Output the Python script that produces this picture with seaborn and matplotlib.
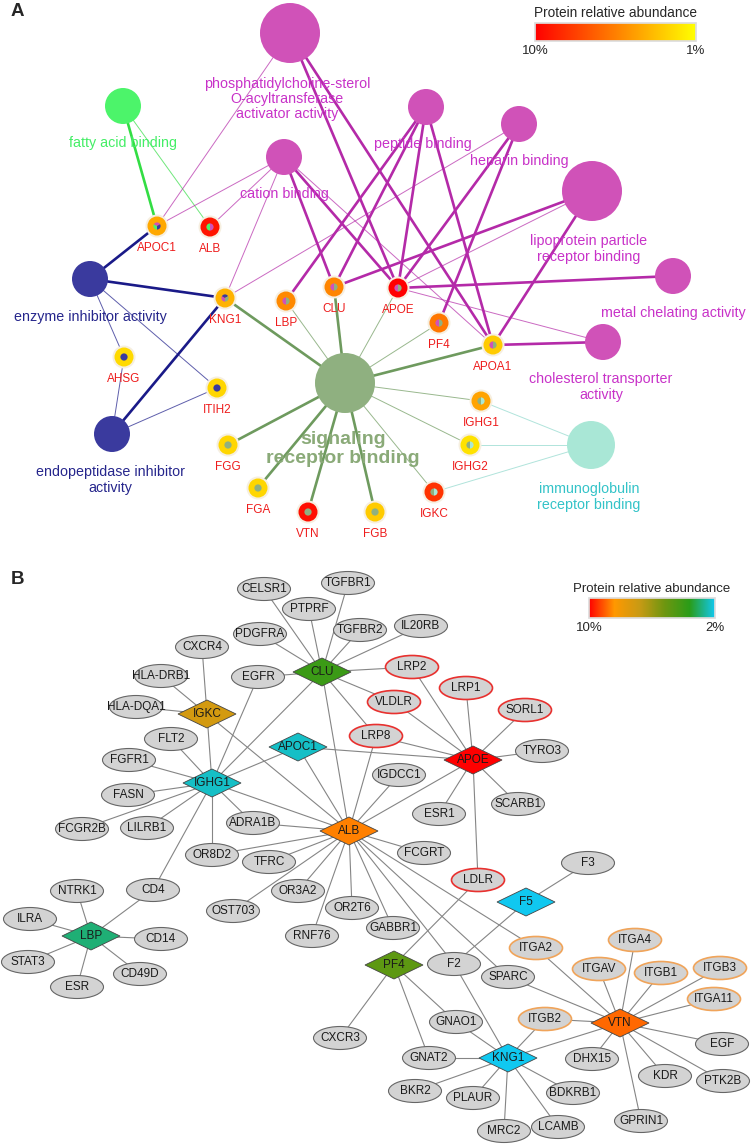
import matplotlib
matplotlib.use("Agg")
import matplotlib.pyplot as plt
import seaborn as sns
from matplotlib.patches import Circle, Ellipse, Polygon, Wedge
from matplotlib.colors import LogNorm
from matplotlib.cm import ScalarMappable

# ---------------- panel A data: GO terms and the plasma proteins linked to them
go_ids = ["pcat", "fab", "cation", "peptide", "heparin", "lipo",
          "metal", "chol", "igr", "enz", "endo", "sig"]
go_labels = ["phosphatidylcholine-sterol\nO-acyltransferase\nactivator activity",
             "fatty acid binding", "cation binding", "peptide binding",
             "heparin binding", "lipoprotein particle\nreceptor binding",
             "metal chelating activity", "cholesterol transporter\nactivity",
             "immunoglobulin\nreceptor binding", "enzyme inhibitor activity",
             "endopeptidase inhibitor\nactivity", "signaling\nreceptor binding"]
go_groups = ["lipid", "fatty", "lipid", "lipid", "lipid", "lipid",
             "lipid", "lipid", "immuno", "inhib", "inhib", "signal"]

proteins_a = ["APOC1", "ALB", "KNG1", "LBP", "CLU", "APOE", "PF4", "APOA1", "AHSG",
              "ITIH2", "IGHG1", "IGHG2", "IGKC", "FGG", "FGA", "VTN", "FGB"]
abundance_a = [2.2, 8.3, 2.0, 2.9, 3.0, 10.0, 3.4, 1.6, 1.4,
               1.45, 2.3, 1.3, 6.3, 1.45, 1.45, 8.8, 1.6]

# (term, protein, strong link)
links_a = [
    ("fab", "APOC1", 1), ("fab", "ALB", 0),
    ("pcat", "APOC1", 0), ("pcat", "APOE", 1), ("pcat", "APOA1", 1),
    ("cation", "APOC1", 0), ("cation", "ALB", 0), ("cation", "KNG1", 0),
    ("cation", "CLU", 1), ("cation", "APOE", 1), ("cation", "APOA1", 0),
    ("peptide", "LBP", 1), ("peptide", "CLU", 1), ("peptide", "APOE", 1), ("peptide", "APOA1", 1),
    ("heparin", "KNG1", 0), ("heparin", "APOE", 1), ("heparin", "PF4", 1),
    ("lipo", "CLU", 1), ("lipo", "APOE", 0), ("lipo", "APOA1", 1),
    ("metal", "APOE", 1),
    ("chol", "APOE", 0), ("chol", "APOA1", 1),
    ("enz", "APOC1", 1), ("enz", "KNG1", 1), ("enz", "AHSG", 0), ("enz", "ITIH2", 0),
    ("endo", "KNG1", 1), ("endo", "AHSG", 0), ("endo", "ITIH2", 0),
    ("sig", "KNG1", 1), ("sig", "LBP", 0), ("sig", "CLU", 1), ("sig", "APOE", 0),
    ("sig", "PF4", 0), ("sig", "APOA1", 1), ("sig", "IGHG1", 0), ("sig", "IGHG2", 0),
    ("sig", "IGKC", 0), ("sig", "FGG", 1), ("sig", "FGA", 1), ("sig", "VTN", 1), ("sig", "FGB", 1),
    ("igr", "IGHG1", 0), ("igr", "IGHG2", 0), ("igr", "IGKC", 0),
]

# ---------------- panel B data: protein-protein interactions
hubs_b = ["CLU", "IGKC", "APOC1", "IGHG1", "ALB", "APOE", "LBP", "PF4", "F5", "KNG1", "VTN"]
abundance_b = [3.0, 5.6, 2.13, 2.13, 7.6, 10.0, 2.4, 3.5, 2.0, 2.0, 8.0]
lipo_receptors = ["LRP2", "LRP1", "VLDLR", "SORL1", "LRP8", "LDLR"]
integrins = ["ITGA2", "ITGA4", "ITGAV", "ITGB1", "ITGB3", "ITGA11", "ITGB2"]

partners_b = {
    "CLU": ["CELSR1", "PTPRF", "TGFBR1", "TGFBR2", "IL20RB", "PDGFRA", "EGFR",
            "LRP2", "VLDLR", "LRP8", "IGHG1", "ALB"],
    "IGKC": ["CXCR4", "HLA-DRB1", "HLA-DQA1", "IGHG1", "ALB"],
    "IGHG1": ["FLT2", "FGFR1", "FASN", "FCGR2B", "LILRB1", "ADRA1B", "OR8D2",
              "CD4", "ALB", "APOC1", "EGFR"],
    "APOC1": ["APOE", "ALB"],
    "ALB": ["ADRA1B", "OR8D2", "TFRC", "OST703", "OR3A2", "RNF76", "OR2T6", "GABBR1",
            "FCGRT", "LRP8", "IGDCC1", "APOE", "F2", "SPARC", "ITGA2"],
    "APOE": ["LRP2", "LRP1", "VLDLR", "SORL1", "LRP8", "TYRO3", "SCARB1", "ESR1", "LDLR"],
    "LBP": ["NTRK1", "ILRA", "STAT3", "ESR", "CD49D", "CD14", "CD4"],
    "PF4": ["LDLR", "CXCR3", "GNAO1", "GNAT2"],
    "F5": ["F3", "F2"],
    "KNG1": ["F2", "GNAO1", "GNAT2", "ITGB2", "BKR2", "PLAUR", "MRC2", "LCAMB", "BDKRB1", "VTN"],
    "VTN": ["ITGA2", "SPARC", "ITGAV", "ITGA4", "ITGB1", "ITGB3", "ITGA11", "ITGB2",
            "EGF", "PTK2B", "KDR", "GPRIN1", "DHX15"],
}

# ---------------- layout (pixel positions of the drawing)
term_layout = {  # node x, y, radius, label x, label y
    "pcat": (290, 33, 30, 287, 99), "fab": (123, 106, 18, 123, 143),
    "cation": (284, 157, 18, 284, 194), "peptide": (426, 107, 18, 423, 144),
    "heparin": (519, 124, 18, 519, 161), "lipo": (592, 191, 30, 589, 249),
    "metal": (673, 276, 18, 673, 313), "chol": (603, 342, 18, 601, 387),
    "igr": (591, 445, 24, 589, 497), "enz": (90, 279, 18, 90, 317),
    "endo": (112, 434, 18, 110, 480), "sig": (345, 383, 30, 343, 449),
}
protein_layout_a = {
    "APOC1": (157, 226), "ALB": (210, 227), "KNG1": (225, 298), "LBP": (286, 301),
    "CLU": (334, 287), "APOE": (398, 288), "PF4": (439, 323), "APOA1": (493, 345),
    "AHSG": (124, 357), "ITIH2": (217, 388), "IGHG1": (481, 401), "IGHG2": (470, 445),
    "IGKC": (434, 492), "FGG": (228, 445), "FGA": (258, 488), "VTN": (308, 512),
    "FGB": (375, 512),
}
layout_b = {
    "CELSR1": (264, 589), "TGFBR1": (348, 583), "PTPRF": (309, 609), "TGFBR2": (360, 630),
    "IL20RB": (421, 626), "PDGFRA": (260, 634), "CXCR4": (202, 647), "HLA-DRB1": (161, 676),
    "EGFR": (258, 677), "CLU": (322, 672), "HLA-DQA1": (136, 707), "IGKC": (207, 714),
    "FLT2": (171, 739), "APOC1": (298, 747), "FGFR1": (129, 760), "IGHG1": (212, 783),
    "FASN": (128, 795), "FCGR2B": (82, 829), "LILRB1": (147, 828), "ADRA1B": (253, 823),
    "ALB": (349, 831), "OR8D2": (212, 855), "TFRC": (269, 862), "OR3A2": (298, 891),
    "OST703": (233, 911), "OR2T6": (352, 908), "RNF76": (312, 936), "GABBR1": (393, 928),
    "FCGRT": (424, 853), "LDLR": (478, 880), "PF4": (394, 965), "F2": (454, 964),
    "LRP2": (412, 667), "LRP1": (466, 688), "VLDLR": (394, 702), "SORL1": (525, 710),
    "LRP8": (376, 736), "APOE": (473, 760), "TYRO3": (542, 751), "IGDCC1": (399, 775),
    "ESR1": (439, 814), "SCARB1": (518, 804), "NTRK1": (77, 891), "CD4": (153, 890),
    "ILRA": (30, 919), "LBP": (91, 936), "CD14": (161, 939), "STAT3": (28, 962),
    "CD49D": (140, 974), "ESR": (77, 987), "CXCR3": (340, 1038), "F3": (588, 863),
    "F5": (526, 902), "ITGA2": (536, 948), "ITGA4": (635, 940), "ITGAV": (599, 969),
    "ITGB1": (661, 973), "ITGB3": (720, 968), "ITGA11": (714, 999), "SPARC": (508, 977),
    "ITGB2": (545, 1019), "VTN": (620, 1023), "EGF": (722, 1044), "GNAO1": (456, 1022),
    "GNAT2": (429, 1058), "KNG1": (508, 1058), "DHX15": (592, 1059), "KDR": (665, 1076),
    "PTK2B": (723, 1081), "BKR2": (415, 1091), "PLAUR": (473, 1098), "BDKRB1": (573, 1093),
    "MRC2": (504, 1131), "LCAMB": (558, 1127), "GPRIN1": (641, 1121),
}

# styles per term group: node fill, edge colour, label colour
group_style = {
    "lipid": ("#d052b8", "#b42aa8", "#c832c8"),
    "fatty": ("#4cf46a", "#33dd44", "#44ee66"),
    "inhib": ("#3a3a9e", "#1a1a88", "#26268c"),
    "signal": ("#8fb080", "#6e9a5e", "#8aaa78"),
    "immuno": ("#a9e7d6", "#8fd8cc", "#33c3c8"),
}

sns.set_theme(style="white")
plt.rcParams["font.family"] = ["Liberation Sans", "DejaVu Sans"]

fig = plt.figure(figsize=(7.52, 11.44), dpi=100)
ax = fig.add_axes([0, 0, 1, 1])
ax.set_xlim(0, 752)
ax.set_ylim(1144, 0)
ax.axis("off")

# ---------------- panel A
cmap_a = sns.blend_palette(["#ffff00", "#ff8000", "#ff0000"], as_cmap=True)
norm_a = LogNorm(vmin=1, vmax=10)
group_of = dict(zip(go_ids, go_groups))

for term, prot, strong in links_a:
    tx, ty = term_layout[term][:2]
    px, py = protein_layout_a[prot]
    col = group_style[group_of[term]][1]
    ax.plot([tx, px], [ty, py], color=col, lw=1.9 if strong else 0.7,
            alpha=1.0 if strong else 0.7, zorder=1, solid_capstyle="round")

for tid, label, grp in zip(go_ids, go_labels, go_groups):
    x, y, r, lx, ly = term_layout[tid]
    fill, _, tcol = group_style[grp]
    ax.add_patch(Circle((x, y), r, facecolor=fill, edgecolor="none", zorder=3))
    if tid == "sig":
        ax.text(lx, ly, label, color=tcol, fontsize=14, fontweight="bold",
                ha="center", va="center", linespacing=1.15, zorder=6)
    else:
        ax.text(lx, ly, label, color=tcol, fontsize=10.3, ha="center",
                va="center", linespacing=1.1, multialignment="center", zorder=6)

for prot, ab in zip(proteins_a, abundance_a):
    x, y = protein_layout_a[prot]
    ax.add_patch(Circle((x, y), 11.5, facecolor="#f6efe0", edgecolor="none", zorder=4))
    ax.add_patch(Circle((x, y), 9.5, facecolor=cmap_a(norm_a(ab)), edgecolor="none", zorder=4))
    grps = []
    for term, p, _ in links_a:
        if p == prot and group_of[term] not in grps:
            grps.append(group_of[term])
    step = 360 / len(grps)
    for i, g in enumerate(grps):
        ax.add_patch(Wedge((x, y), 3.6, 90 + i * step, 90 + (i + 1) * step,
                           facecolor=group_style[g][0], edgecolor="none", zorder=5))
    ax.text(x, y + 22, prot, color="#ee1c1c", fontsize=8.5, ha="center", va="center", zorder=6)

ax.text(17, 12, "A", fontsize=13.5, fontweight="bold", ha="center", va="center")

cax_a = fig.add_axes([535 / 752, 1 - 41 / 1144, 161 / 752, 18 / 1144])
cb_a = fig.colorbar(ScalarMappable(norm=norm_a, cmap=cmap_a), cax=cax_a, orientation="horizontal")
cax_a.invert_xaxis()
cb_a.set_ticks([10, 1])
cb_a.set_ticklabels(["10%", "1%"])
cax_a.minorticks_off()
cax_a.tick_params(length=0, labelsize=9.5, pad=3)
cb_a.outline.set_edgecolor("#dddddd")
cax_a.set_title("Protein relative abundance", fontsize=9.8, pad=4)

# ---------------- panel B
cmap_b = sns.blend_palette(["#10c8f0", "#2a9c18", "#6e9610", "#c89a14", "#ff9800", "#ff0000"],
                           as_cmap=True)
norm_b = LogNorm(vmin=2, vmax=10)

for hub, others in partners_b.items():
    hx, hy = layout_b[hub]
    for o in others:
        ox, oy = layout_b[o]
        ax.plot([hx, ox], [hy, oy], color="#858585", lw=0.8, zorder=1)

for name, (x, y) in layout_b.items():
    if name in hubs_b:
        continue
    if name in lipo_receptors:
        ec, lw = "#e8312f", 1.2
    elif name in integrins:
        ec, lw = "#f0a45a", 1.2
    else:
        ec, lw = "#666666", 0.8
    ax.add_patch(Ellipse((x, y), 53, 23, facecolor="#d3d3d3", edgecolor=ec, lw=lw, zorder=2))
    ax.text(x, y, name, fontsize=8.5, color="#1a1a1a", ha="center", va="center", zorder=3)

for hub, ab in zip(hubs_b, abundance_b):
    x, y = layout_b[hub]
    ax.add_patch(Polygon([(x - 29, y), (x, y - 14), (x + 29, y), (x, y + 14)],
                         closed=True, facecolor=cmap_b(norm_b(ab)),
                         edgecolor="#444444", lw=0.6, zorder=2))
    ax.text(x, y, hub, fontsize=8.5, color="#1a1a1a", ha="center", va="center", zorder=3)

ax.text(17, 580, "B", fontsize=13.5, fontweight="bold", ha="center", va="center")

cax_b = fig.add_axes([589 / 752, 1 - 618 / 1144, 126 / 752, 20 / 1144])
cb_b = fig.colorbar(ScalarMappable(norm=norm_b, cmap=cmap_b), cax=cax_b, orientation="horizontal")
cax_b.invert_xaxis()
cb_b.set_ticks([10, 2])
cb_b.set_ticklabels(["10%", "2%"])
cax_b.minorticks_off()
cax_b.tick_params(length=0, labelsize=9.5, pad=3)
cb_b.outline.set_edgecolor("#dddddd")
cax_b.set_title("Protein relative abundance", fontsize=9.5, pad=4)

fig.savefig("out.png", dpi=100)
